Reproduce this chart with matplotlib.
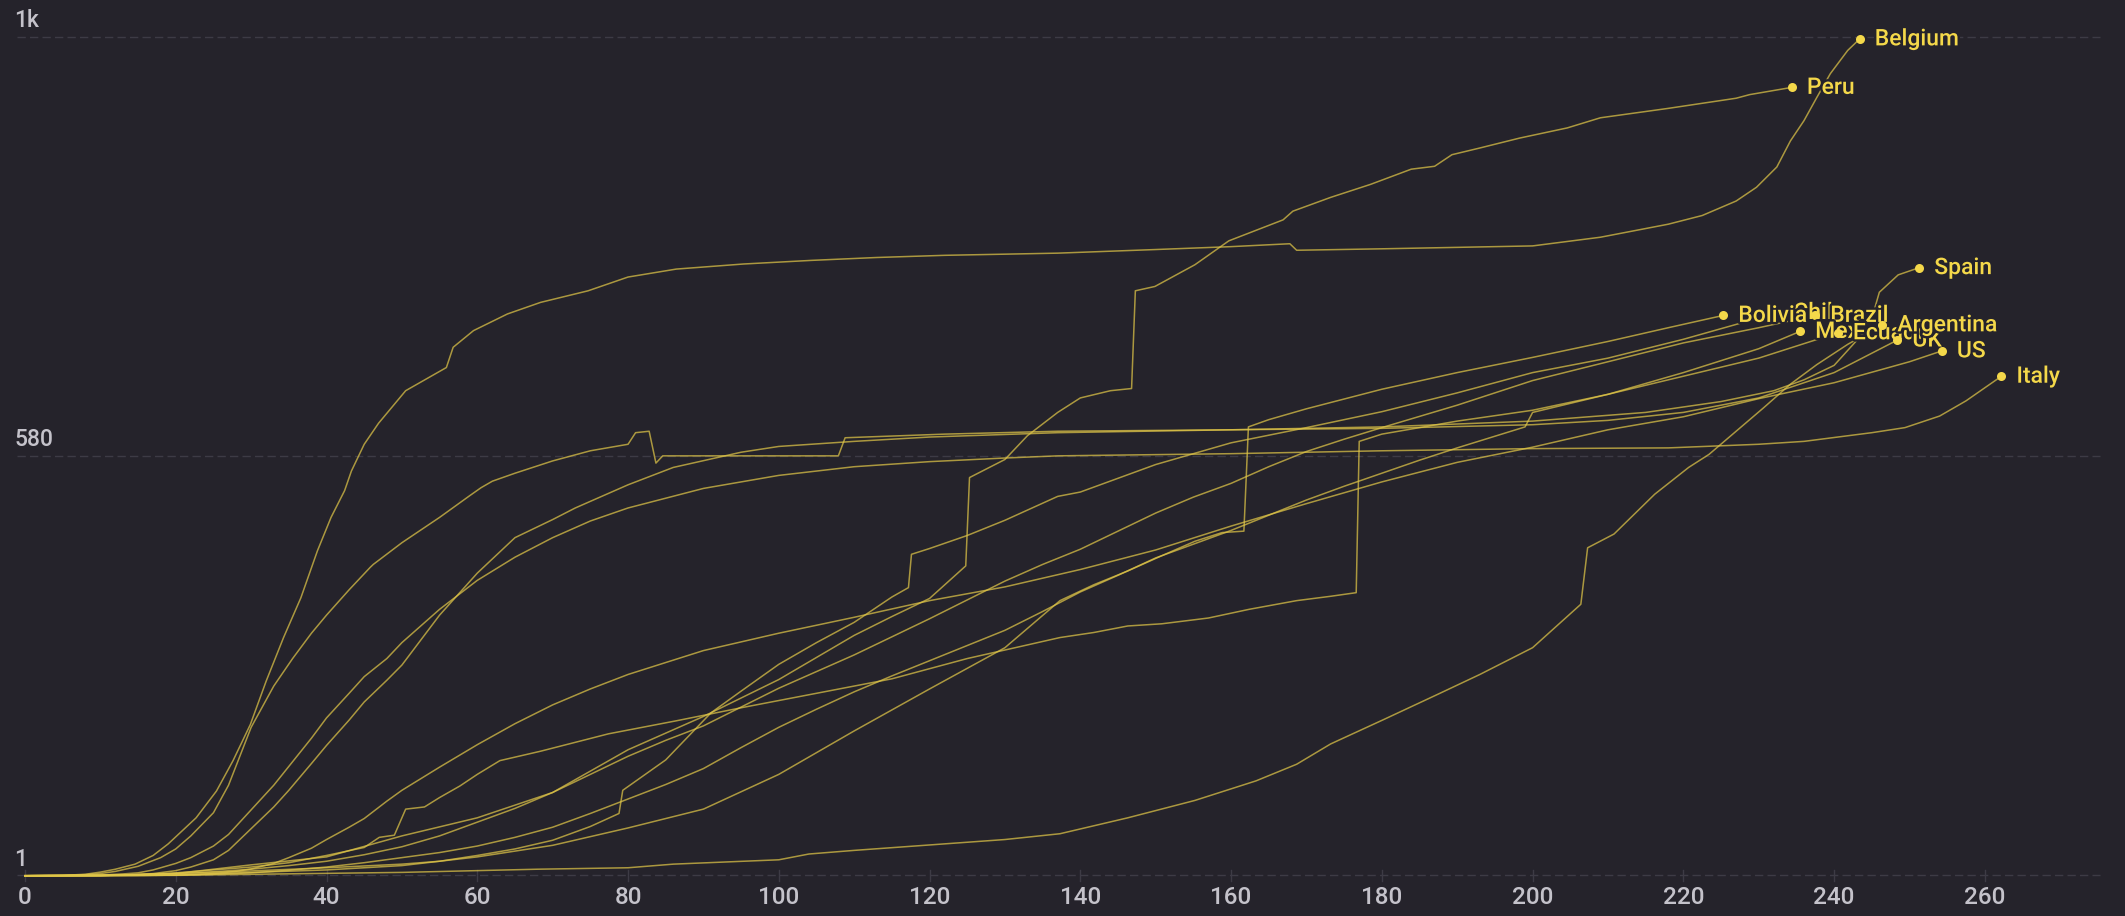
import matplotlib
matplotlib.use("Agg")
import matplotlib.pyplot as plt
import matplotlib.patheffects as pe

# ---------------- data (days since first death, deaths per million) ----------------
belgium_days = [0, 5, 8, 10, 12, 14.6, 17, 19, 22.7, 25.4, 27.6, 29.9, 32, 34.3, 36.6, 38.8, 40.6, 42.4, 43.3, 45,
                46.9, 50.5, 55.9, 56.8, 59.5, 64, 68.4, 74.7, 80, 86.4, 95.3, 104.3, 113, 122, 137, 150, 160, 167.8,
                168.7, 180, 190, 200, 209, 218, 222.5, 227, 229.7, 232.4, 234.2, 236, 237.7, 239.5, 241.8, 243.4]
belgium_vals = [0, 0.5, 2, 5, 9, 16, 28, 44, 80, 117, 159, 209, 269, 329, 384, 449, 495, 532, 559, 596,
                625, 670, 702, 730, 753, 776, 792, 808, 827, 838, 845, 850, 854, 857, 860, 865, 869, 873,
                864, 866, 868, 870, 882, 900, 912, 932, 951, 979, 1015, 1043, 1075, 1108, 1140, 1156]

peru_days = [0, 10, 20, 30, 40, 50, 60, 70, 80, 90, 100, 110, 115, 120, 124.8, 125.3, 130, 133, 137, 140, 144,
             146.8, 147.3, 149.9, 155.2, 159.7, 166.9, 168.2, 173.2, 178.5, 183.9, 187, 189.3, 192.9, 198.3,
             204.6, 209, 218, 227, 228.8, 234.4]
peru_vals = [0, 0.3, 3, 15, 26, 55, 80, 115, 174, 220, 271, 332, 358, 383, 428, 550, 575, 608, 640, 660, 670,
             673, 808, 814, 844, 877, 906, 918, 937, 955, 976, 980, 996, 1005, 1019,
             1033, 1047, 1060, 1074, 1079, 1089]

spain_days = [0, 5, 8, 10, 12, 15, 18, 20, 22, 25, 27, 30, 33, 35.5, 38, 40, 43, 45.8, 46.2, 50, 55, 59, 60.5, 62,
              65, 70, 75, 80, 81, 82.8, 83.7, 84.6, 95, 107.9, 108.8, 122, 137, 160, 180, 200, 215, 225, 232,
              236, 240, 243.4, 245, 246, 248.5, 251.3]
spain_vals = [0, 0.5, 1.5, 3, 6, 13, 25, 37, 55, 87, 125, 205, 262, 300, 335, 360, 395, 426, 430, 460, 495, 525,
              536, 545, 556, 573, 587, 596, 612, 614, 570, 580, 580, 580, 605, 610, 614, 616, 620, 628, 640, 655,
              670, 685, 705, 744, 770, 806, 830, 840]

italy_days = [0, 5, 10, 13, 15, 17, 20, 22, 25, 27, 30, 33, 35, 38, 40, 43, 45, 48, 50, 55, 60, 65, 70, 75, 80,
              90, 100, 110, 120, 130, 137, 160, 180, 200, 218, 230, 236, 245, 249.4, 254, 257.5, 262.2]
italy_vals = [0, 0.1, 0.9, 2.5, 4, 8, 17, 25, 41, 57, 91, 125, 151, 190, 218, 252, 275, 300, 322, 368, 408, 440,
              467, 490, 508, 535, 553, 565, 572, 577, 580, 583, 587, 590, 591, 596, 600, 612, 619, 635, 656, 690]

uk_days = [0, 5, 10, 14, 17, 20, 22, 25, 27, 30, 33, 35, 38, 40, 43, 45, 48, 50, 55, 60, 65, 70, 73, 80, 86, 95,
           100, 110, 120, 137, 160, 180, 200, 210, 220, 230, 240, 248.4]
uk_vals = [0, 0.1, 0.3, 1, 3, 7, 12, 22, 35, 65, 95, 118, 155, 180, 215, 240, 270, 291, 360, 418, 467, 492, 508,
           540, 564, 585, 593, 600, 606, 612, 616, 618, 623, 629, 640, 660, 695, 740]

us_days = [0, 10, 15, 20, 23, 25, 28, 30, 33, 35, 38, 40, 43, 45, 48, 50, 55, 60, 65, 70, 75, 80, 90, 100, 110,
           120, 130, 140, 150, 160, 170, 180, 190, 200, 210, 220, 230, 240, 250, 254.3]
us_vals = [0, 0.1, 0.2, 0.8, 1.8, 3, 6, 9.4, 17, 25, 38, 50, 67, 79, 103, 118, 150, 181, 210, 236, 258, 278, 311,
           335, 357, 380, 399, 423, 450, 483, 514, 544, 571, 592, 616, 634, 659, 681, 710, 725]

brazil_days = [0, 10, 15, 20, 25, 30, 35, 40, 45, 50, 55, 60, 65, 70, 75, 80, 85, 90, 95, 100, 105, 110, 115, 120,
               125, 130, 135, 140, 145, 150, 155, 160, 165, 170, 175, 180, 190, 200, 210, 220, 230, 237.5]
brazil_vals = [0, 0.5, 1.5, 3, 5.5, 9, 14, 20, 29, 40, 55, 74, 93, 115, 140, 165, 187, 207, 233, 259, 282, 305,
               330, 355, 381, 407, 430, 451, 476, 501, 523, 542, 565, 586, 603, 619, 650, 684, 710, 736, 757, 774]

mexico_days = [0, 10, 20, 25, 30, 35, 40, 45, 50, 55, 60, 65, 70, 75, 80, 85, 90, 95, 100, 105, 110, 115, 120,
               125, 130, 135, 140, 145, 150, 155, 160, 165, 170, 175, 180, 185, 190, 199, 200, 210, 220, 230, 235.5]
mexico_vals = [0, 0.1, 0.8, 2, 4, 7.5, 12, 18, 25, 32, 41, 53, 67, 86, 106, 126, 148, 177, 205, 230, 254, 276,
               297, 318, 339, 365, 392, 415, 439, 458, 477, 498, 519, 538, 556, 574, 591, 620, 640, 665, 695, 728,
               752]

chile_days = [0, 10, 20, 30, 40, 50, 55, 60, 65, 70, 75, 78.8, 79.3, 85, 91, 95, 100, 105, 110, 115, 117.2, 117.6,
              120, 125, 130, 137, 140, 150, 160, 170, 180, 190, 200, 210, 220, 232.6]
chile_vals = [0, 0.3, 3, 6.6, 11, 16, 20, 28, 37, 49, 68, 86, 118, 160, 225, 255, 292, 322, 350, 385, 398, 444,
              452, 470, 491, 524, 530, 568, 598, 619, 641, 667, 695, 715, 741, 778]

ecuador_days = [0, 10, 15, 20, 25, 30, 35, 40, 45, 47, 49, 50.5, 53, 55, 57.7, 60, 63, 68.4, 77.4, 86.4, 95, 105,
                115, 125, 137.3, 141.8, 146.3, 150.8, 157, 162.4, 168.7, 173.2, 176.6, 177, 180, 190, 200, 210,
                220, 230, 240.5]
ecuador_vals = [0, 0.5, 1.5, 4, 8, 12, 18, 28, 39, 53, 56, 92, 95, 108, 124, 140, 159, 172, 196, 214, 232, 252,
                272, 300, 329, 336, 345, 348, 356, 368, 380, 386, 391, 600, 610, 628, 643, 665, 690, 715, 750]

bolivia_days = [0, 10, 20, 30, 40, 50, 60, 70, 80, 90, 100, 110, 120, 130, 137.3, 141.8, 146.3, 150.8, 155.2,
                158.8, 161.7, 162.3, 165, 170, 180, 190, 200, 210, 218, 225.3]
bolivia_vals = [0, 0.3, 1.5, 4.5, 8, 14, 26, 42, 66, 92, 140, 200, 258, 315, 380, 402, 421, 442, 462,
                474, 476, 620, 630, 645, 672, 695, 716, 738, 757, 774]

argentina_days = [0, 20, 32.6, 50, 68, 80, 86, 100, 104, 110, 122, 130, 137.3, 146.3, 155.2, 163.3, 168.7, 173.2,
                  180.3, 187.5, 193, 200, 206.4, 207.3, 210.8, 216.2, 220.7, 223.4, 227, 230.6, 234.2, 237.7,
                  241.8, 246.4]
argentina_vals = [0, 0.5, 2.3, 4.6, 9, 11, 16, 22, 30, 35, 44, 50, 58, 80, 104, 131, 154, 182,
                  216, 251, 278, 315, 375, 453, 472, 527, 564, 582, 614, 646, 679, 706, 734, 761]

# drawing / label order (later labels sit on top of earlier ones)
countries = ["Chile", "Bolivia", "Brazil", "Mexico", "Ecuador", "UK", "Argentina", "US", "Spain", "Italy",
             "Peru", "Belgium"]
series = {
    "Belgium": (belgium_days, belgium_vals),
    "Peru": (peru_days, peru_vals),
    "Spain": (spain_days, spain_vals),
    "Italy": (italy_days, italy_vals),
    "UK": (uk_days, uk_vals),
    "US": (us_days, us_vals),
    "Brazil": (brazil_days, brazil_vals),
    "Mexico": (mexico_days, mexico_vals),
    "Chile": (chile_days, chile_vals),
    "Ecuador": (ecuador_days, ecuador_vals),
    "Bolivia": (bolivia_days, bolivia_vals),
    "Argentina": (argentina_days, argentina_vals),
}

y_ticks = [1, 580, 1159]
y_tick_labels = ["1", "580", "1k"]
x_ticks = list(range(0, 261, 20))

# ---------------- style ----------------
BG = "#25232b"
GRID = "#3d3b45"
TICK_TXT = "#c4c2ca"
LINE = "#e0c648"
LABEL = "#f4d84a"

W, H = 2125, 916
fig = plt.figure(figsize=(W / 100, H / 100), dpi=100, facecolor=BG)
ax = fig.add_axes([0, 0, 1, 1])
ax.set_facecolor(BG)
ax.axis("off")

# pixel mapping of the plot frame
px_per_day = 7.538
x0_px = 25
y_low_px, y_top_px = 875.0, 36.7
ppu = (y_low_px - y_top_px) / (y_ticks[-1] - y_ticks[0])
ax.set_xlim(-x0_px / px_per_day, (W - x0_px) / px_per_day)
ax.set_ylim(y_ticks[0] - (H - y_low_px) / ppu, y_ticks[-1] + y_top_px / ppu)
xmin, xmax = ax.get_xlim()
ymin, ymax = ax.get_ylim()

gx0 = xmin + 17 / px_per_day
gx1 = xmin + 2100 / px_per_day
for v, lab in zip(y_ticks, y_tick_labels):
    ax.plot([gx0, gx1], [v, v], color=GRID, lw=1.0, dashes=(6, 3), zorder=1)
    ax.text(xmin + 14 / px_per_day, v + 16 / ppu, lab, color=TICK_TXT, fontsize=16.5,
            fontfamily="Roboto", fontweight="medium", ha="left", va="center", zorder=2)

for d in x_ticks:
    ax.plot([d, d], [y_ticks[0] - 6 / ppu, y_ticks[0] + 5 / ppu], color=GRID, lw=1.0, zorder=1)
    ax.text(d, ymin + (H - 898) / ppu, str(d), color=TICK_TXT, fontsize=17.5,
            fontfamily="Roboto", fontweight="medium", ha="center", va="center")

for name in countries:
    d, v = series[name]
    ax.plot(d, v, color=LINE, lw=1.1, alpha=0.72, zorder=3, solid_joinstyle="round")

for i, name in enumerate(countries):
    d, v = series[name]
    ax.plot([d[-1]], [v[-1]], "o", color=LABEL, ms=6.5, mec="none", zorder=5 + 2 * i)
    t = ax.annotate(name, (d[-1], v[-1]), xytext=(15, 0), textcoords="offset pixels",
                    color=LABEL, fontsize=16.5, fontfamily="Roboto", fontweight="medium",
                    ha="left", va="center", zorder=6 + 2 * i)
    t.set_path_effects([pe.withStroke(linewidth=3.5, foreground=BG)])

fig.savefig("out.png", dpi=100, facecolor=BG)
